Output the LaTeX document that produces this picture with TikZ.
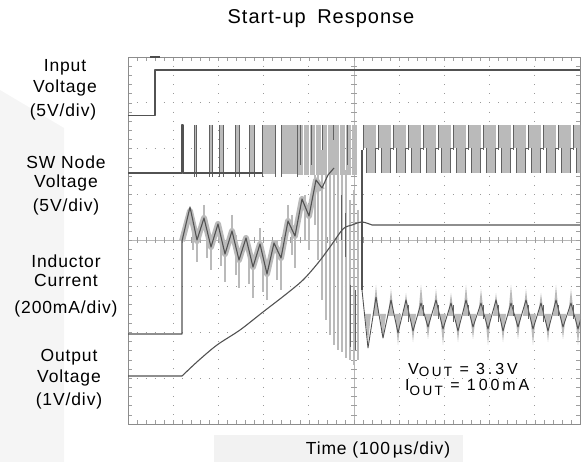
\documentclass[tikz,border=0pt]{standalone}
\usepackage{fontspec}
\setmainfont{Liberation Sans}
\newfontfamily\spfont[LetterSpace=5]{Liberation Sans}
\newfontfamily\wsfont[LetterSpace=18]{Liberation Sans}
\begin{document}
\begin{tikzpicture}[x=1pt,y=-1pt,
  gridc/.style={draw=black!38, line width=0.5pt},
  cgrid/.style={draw=black!28, line width=0.5pt},
  dotv/.style={draw=black!40, line width=0.9pt, dash pattern=on 0.9pt off 8.275pt, dash phase=0.45pt},
  doth/.style={draw=black!40, line width=0.9pt, dash pattern=on 0.9pt off 8.14pt, dash phase=0.45pt},
  trc/.style={draw=black!68, line width=1.1pt, line join=round},
  trt/.style={draw=black!62, line width=0.7pt},
  band/.style={fill=black!27},
  bandl/.style={draw=black!27, line width=1.3pt},
  lbl/.style={font=\spfont\fontsize{17.5}{17.5}\selectfont, anchor=base, inner sep=0pt},
  lbs/.style={font=\wsfont\fontsize{16}{16}\selectfont, anchor=base west, inner sep=0pt},
]
\useasboundingbox (0,0) rectangle (581,462);
% faint backgrounds
\fill[black!4] (0,90) -- (64,128) -- (64,462) -- (0,462) -- cycle;
\fill[black!5] (214,435) rectangle (463,462);

% ---------- grid ----------
\foreach \i in {1,2,3,4,6,7,8,9}
  \draw[dotv] ({128+45.2*\i},57) -- ({128+45.2*\i},424);
\foreach \j in {1,2,3,5,6,7}
  \draw[doth] (128,{57+45.875*\j}) -- (580,{57+45.875*\j});
\draw[cgrid] (354,57) -- (354,424);
\draw[cgrid] (128,240.5) -- (580,240.5);
\foreach \k in {1,...,49}{
  \draw[gridc] ({128+9.04*\k},57) -- ++(0,4);
  \draw[gridc] ({128+9.04*\k},424) -- ++(0,-4);
  \draw[gridc] ({128+9.04*\k},237.5) -- ++(0,6);
}
\foreach \k in {1,...,39}{
  \draw[gridc] (128,{57+9.175*\k}) -- ++(4,0);
  \draw[gridc] (580,{57+9.175*\k}) -- ++(-4,0);
  \draw[gridc] (351,{57+9.175*\k}) -- ++(6,0);
}
\draw[draw=black!45, line width=0.8pt] (128,57) rectangle (580,424);
\fill[black!70] (150,56) rectangle (160,58.5);

\begin{scope}
\clip (128,57) rectangle (580,424);
% ---------- input voltage ----------
\draw[trc] (128,115.5) -- (155,115.5) -- (155,70) -- (580,70);

% ---------- SW node voltage ----------
\foreach \x/\w in {194/2,209/3,219/4,235/4,249/5,262/13,281/16}{
  \fill[band] (\x,125) rectangle ({\x+\w},174);
  \draw[trt] (\x,177) -- (\x,125);
  \draw[trt] ({\x+\w},125) -- ({\x+\w},177);
}
\foreach \x in {298,304,...,356}
  \fill[band] (\x,125) rectangle ({\x+5},175);
\foreach \x in {300,311,322,333,347}
  \draw[trt] (\x,125) -- (\x,165);
\draw[trc] (128,173) -- (182,173) -- (182,125) -- (183,125) -- (183,173) -- (262,173);
\foreach \k in {0,...,14}{
  \pgfmathsetmacro\xo{363+15*\k}
  \fill[band] (\xo,125) rectangle ({\xo+13},148);
  \fill[band] ({\xo+3},148) rectangle ({\xo+12},173);
  \draw[trt] (\xo,125) -- (\xo,150);
  \draw[trt] ({\xo+3},148) -- ({\xo+3},173);
  \draw[trt] ({\xo+12},173) -- ({\xo+12},148) -- ({\xo+16},148);
}

% ---------- inductor current ----------
\draw[bandl, line width=6pt, line join=round]
  (182,241) -- (190,211) -- (197,241) -- (204,218) -- (211,247) -- (218,224) -- (225,254)
  -- (232,231) -- (239,260) -- (246,238) -- (253,267) -- (260,244) -- (267,274)
  -- (274,243) -- (281,258) -- (288,221) -- (295,236) -- (302,199) -- (309,216)
  -- (316,180) -- (322,190);
\foreach \x/\a/\b in {197/240/262,211/246/270,225/252/282,239/258/288,253/262/298,267/270/300,
  281/255/290,295/230/268,309/210/250,204/205/225,232/215/240,260/228/250,288/205/230,
  193/215/250,207/222/258,221/228/266,236/235/275,249/240/284,263/248/292,277/240/280,
  292/215/255,305/195/240,315/175/225}
  \draw[bandl] (\x,\a) -- (\x,\b);
\foreach \x/\a/\b in {322/150/300,326/135/320,330/128/335,334/140/345,338/125/350,
  342/155/352,346/170/358,350/200/360,354/190/365,358/210/360,318/170/260}
  \draw[bandl] (\x,\a) -- (\x,\b);
\draw[trc] (128,334) -- (182,334) -- (182,241) -- (190,207) -- (197,240) -- (204,218) -- (211,247)
  -- (218,224) -- (225,254) -- (232,231) -- (239,260) -- (246,238) -- (253,267) -- (260,244)
  -- (267,274) -- (274,243) -- (281,258) -- (288,221) -- (295,236) -- (302,199) -- (309,216)
  -- (316,180) -- (322,188) -- (328,175) -- (334,168);
\draw[trt] (341,195) -- (341,240);
\draw[trt] (345,213) -- (345,257);
\draw[trt] (350,285) -- (350,347);
\draw[trt] (355,290) -- (355,350);
\draw[trc] (362,150) -- (362,290);
\foreach \k in {0,...,14}{
  \pgfmathsetmacro\v{368+15*\k}
  \pgfmathsetmacro\pu{285+4*mod(\k,3)}
  \pgfmathsetmacro\pd{345-3*mod(\k+1,3)}
  \fill[black!27] ({\v+5},316) -- ({\v+8},\pu) -- ({\v+11},316) -- cycle;
  \fill[black!27] ({\v-3},314) -- (\v,\pd) -- ({\v+3},314) -- cycle;
}
\draw[trc, line width=0.9pt] (362,290) -- (368,348) -- (376,297) -- (383,338)
  -- (391,300) -- (398,333) \foreach \k in {2,...,14}{ -- ({376+15*\k},{300+3*mod(\k,2)}) -- ({383+15*\k},{327+2*mod(\k,3)})};
\foreach \k in {2,...,14}
  \draw[trt, line width=0.5pt] ({378+15*\k},{305}) -- ({378+15*\k},{316+mod(\k,3)*3});

% ---------- output voltage ----------
\draw[trc] (128,376) -- (182,376)
  plot[smooth] coordinates {(182,376) (198,361) (217,345) (240,330) (263,312) (285,295)
  (303,280) (318,263) (330,247) (343,229) (352,225) (362,222) (372,225)}
  -- (580,225);
\end{scope}

% ---------- texts ----------
\node[font=\spfont\fontsize{20}{20}\selectfont, anchor=base, inner sep=0pt] (title) at (321,24) {Start-up\hspace{5pt} Response};
\node[lbl] (in1) at (65,72) {Input};
\node[lbl] (in2) at (65,93) {Voltage};
\node[lbl] (in3) at (63,117) {(5V/div)};
\node[lbl] (sw1) at (66,169) {SW Node};
\node[lbl] (sw2) at (66,188) {Voltage};
\node[lbl] (sw3) at (66,212) {(5V/div)};
\node[lbl] (il1) at (66,268) {Inductor};
\node[lbl] (il2) at (66,287) {Current};
\node[lbl] (il3) at (66,313) {(200mA/div)};
\node[lbl] (vo1) at (69,361) {Output};
\node[lbl] (vo2) at (69,382) {Voltage};
\node[lbl] (vo3) at (69,405) {(1V/div)};
\node[lbl] (time) at (378,454) {Time (100\,µs/div)};
\node[lbs] (vout) at (408,374) {V\raisebox{-2pt}{\fontsize{13.5}{13.5}\selectfont OUT} = 3.3V};
\node[lbs] (iout) at (405,390) {I\raisebox{-5pt}{\fontsize{13.5}{13.5}\selectfont OUT} = 100mA};
\end{tikzpicture}
\end{document}
